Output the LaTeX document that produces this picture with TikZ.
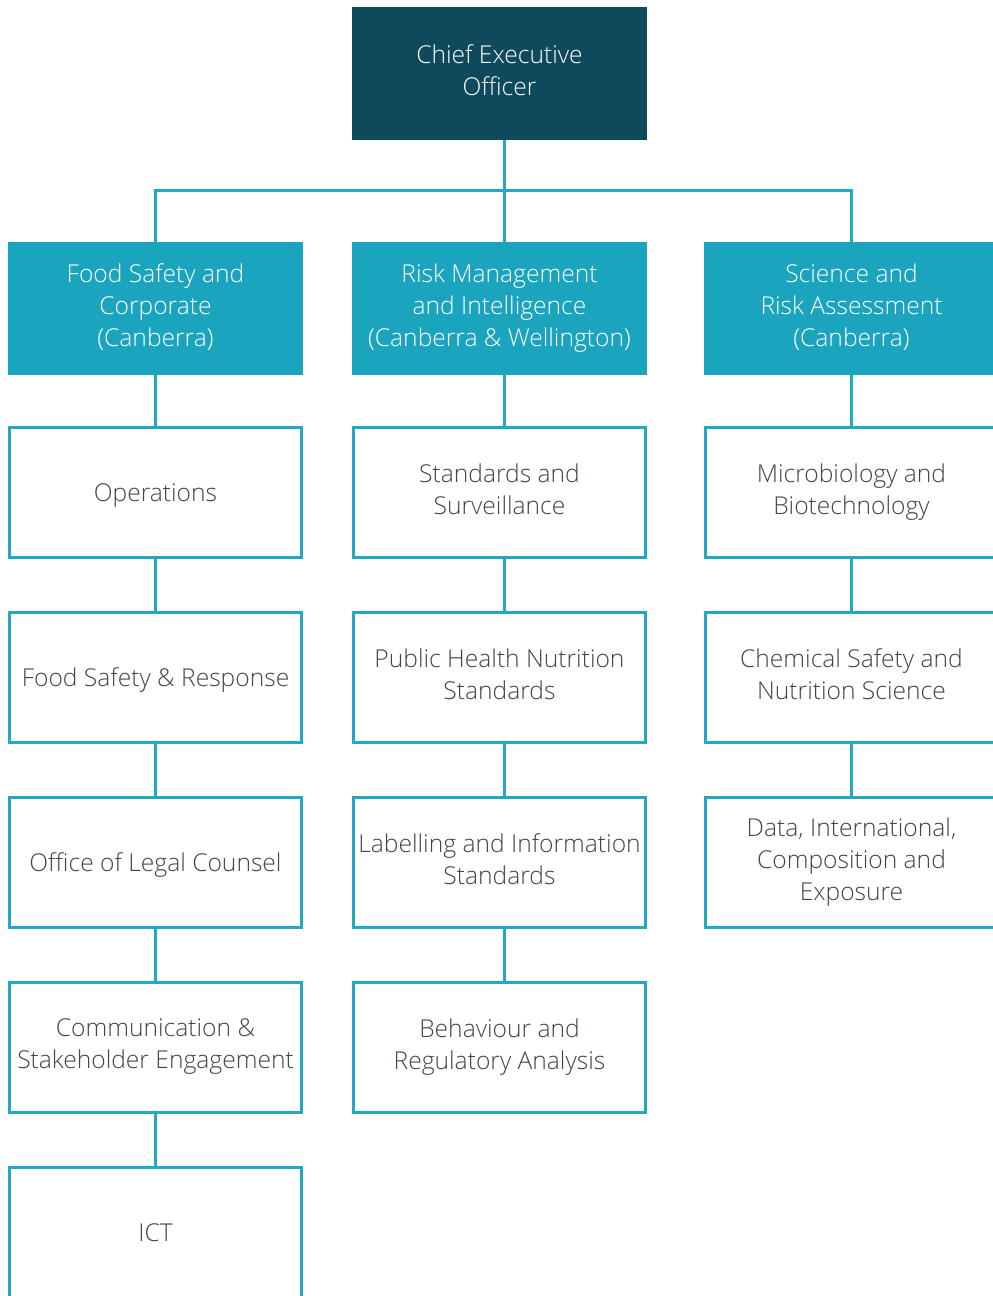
\documentclass[tikz,border=0pt]{standalone}
\usepackage{fontspec}
\setmainfont{Open Sans}[UprightFont={* Light}]
\usetikzlibrary{positioning}
\definecolor{ceofill}{HTML}{0F4A5C}
\definecolor{divfill}{HTML}{1BA4BD}
\definecolor{edgeline}{HTML}{22A8C0}
\definecolor{bodytext}{HTML}{3D4650}
% box text: fixed line pitch; the invisible rule gives every first line the same height,
% so a text block hung from its north anchor sits at a known place
\newcommand\boxfont{\fontsize{24.6}{32}\selectfont}
\newcommand\toprule{\rule{0pt}{22pt}}
\begin{document}
\begin{tikzpicture}[x=1pt,y=-1pt,
  every node/.style={inner sep=0pt, outer sep=0pt},
  ceobox/.style={fill=ceofill, minimum width=295, minimum height=133},
  divbox/.style={fill=divfill, minimum width=295, minimum height=133},
  unitbox/.style={draw=edgeline, line width=3pt, fill=white, minimum width=292, minimum height=130},
  txt/.style={font=\boxfont, align=center, anchor=north, execute at begin node=\toprule},
  lighttxt/.style={txt, text=white},
  darktxt/.style={txt, text=bodytext},
  % vertical offset of the text block for one, two or three lines
  l1/.style={yshift=13.15pt},
  l2/.style={yshift=29.15pt},
  l3/.style={yshift=45.15pt},
  link/.style={draw=edgeline, line width=3pt}]
\useasboundingbox (0,0) rectangle (993,1296);
\clip (0,0) rectangle (993,1296);

% top level
\node[ceobox] (ceo) at (499.5,73.5) {};

% divisions
\node[divbox] (fsc) at (155.5,308.5) {};
\node[divbox] (rmi) at (499.5,308.5) {};
\node[divbox] (sra) at (851.5,308.5) {};

% left column
\node[unitbox] (ops) at (155.5,492.5) {};
\node[unitbox] (fsr) at (155.5,677.5) {};
\node[unitbox] (olc) at (155.5,862.5) {};
\node[unitbox] (cse) at (155.5,1047.5) {};
\node[unitbox] (ict) at (155.5,1232.5) {};

% middle column
\node[unitbox] (sas) at (499.5,492.5) {};
\node[unitbox] (phn) at (499.5,677.5) {};
\node[unitbox] (lis) at (499.5,862.5) {};
\node[unitbox] (bra) at (499.5,1047.5) {};

% right column
\node[unitbox] (mab) at (851.5,492.5) {};
\node[unitbox] (csn) at (851.5,677.5) {};
\node[unitbox] (dic) at (851.5,862.5) {};

% box texts
\node[lighttxt] (ceo-t) at ([l2]ceo.center) {Chief Executive\\Officer};
\node[lighttxt] (fsc-t) at ([l3]fsc.center) {Food Safety and\\Corporate\\(Canberra)};
\node[lighttxt] (rmi-t) at ([l3]rmi.center) {Risk Management\\and Intelligence\\(Canberra \& Wellington)};
\node[lighttxt] (sra-t) at ([l3]sra.center) {Science and\\Risk Assessment\\(Canberra)};

\node[darktxt] (ops-t) at ([l1]ops.center) {Operations};
\node[darktxt] (fsr-t) at ([l1]fsr.center) {Food Safety \& Response};
\node[darktxt] (olc-t) at ([l1]olc.center) {Office of Legal Counsel};
\node[darktxt] (cse-t) at ([l2]cse.center) {Communication \&\\Stakeholder Engagement};
\node[darktxt] (ict-t) at ([l1]ict.center) {ICT};

\node[darktxt] (sas-t) at ([l2]sas.center) {Standards and\\Surveillance};
\node[darktxt] (phn-t) at ([l2]phn.center) {Public Health Nutrition\\Standards};
\node[darktxt] (lis-t) at ([l2]lis.center) {Labelling and Information\\Standards};
\node[darktxt] (bra-t) at ([l2]bra.center) {Behaviour and\\Regulatory Analysis};

\node[darktxt] (mab-t) at ([l2]mab.center) {Microbiology and\\Biotechnology};
\node[darktxt] (csn-t) at ([l2]csn.center) {Chemical Safety and\\Nutrition Science};
\node[darktxt] (dic-t) at ([l3]dic.center) {Data, International,\\Composition and\\Exposure};

% connectors
\coordinate (bus) at (504,190);
\draw[link] ([xshift=4.5]ceo.south) -- ([xshift=4.5]rmi.north);
\draw[link] (fsc.north) |- (bus) -| (sra.north);

\draw[link] (fsc.south) -- (ops.north);
\draw[link] (ops.south) -- (fsr.north);
\draw[link] (fsr.south) -- (olc.north);
\draw[link] (olc.south) -- (cse.north);
\draw[link] (cse.south) -- (ict.north);

\draw[link] ([xshift=4.5]rmi.south) -- ([xshift=4.5]sas.north);
\draw[link] ([xshift=4.5]sas.south) -- ([xshift=4.5]phn.north);
\draw[link] ([xshift=4.5]phn.south) -- ([xshift=4.5]lis.north);
\draw[link] ([xshift=4.5]lis.south) -- ([xshift=4.5]bra.north);

\draw[link] (sra.south) -- (mab.north);
\draw[link] (mab.south) -- (csn.north);
\draw[link] (csn.south) -- (dic.north);
\end{tikzpicture}
\end{document}
